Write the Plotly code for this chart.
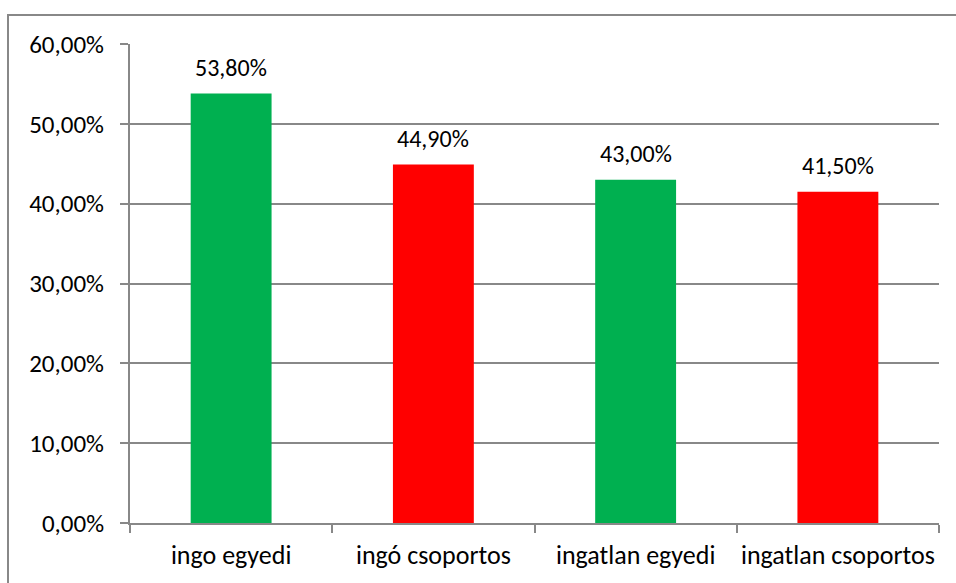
import plotly.graph_objects as go

categories = ["ingo egyedi", "ingó csoportos", "ingatlan egyedi", "ingatlan csoportos"]
values = [0.538, 0.449, 0.430, 0.415]
bar_colors = ["#00B050", "#FF0000", "#00B050", "#FF0000"]

W, H = 956, 583
L, R, T, B = 130, 17, 44, 60
pw, ph = W - L - R, H - T - B

fig = go.Figure(go.Bar(
    x=categories,
    y=values,
    marker=dict(color=bar_colors, line=dict(width=0)),
    width=0.4,
    cliponaxis=False,
))

# value labels above each bar
for c, v in zip(categories, values):
    fig.add_annotation(
        x=c, y=v, text=f"{v * 100:.2f}%".replace(".", ","),
        showarrow=False, yanchor="bottom", yshift=10,
        font=dict(size=24, color="#000000"),
    )

grid = "#888888"
font = "Carlito, Lato, sans-serif"

fig.update_layout(
    width=W, height=H,
    margin=dict(l=L, r=R, t=T, b=B, autoexpand=False),
    paper_bgcolor="white", plot_bgcolor="white",
    separators=",.",
    showlegend=False,
    font=dict(family=font, size=24, color="#000000"),
    xaxis=dict(
        type="category",
        tickson="boundaries",
        tickangle=0,
        automargin=False,
        ticks="outside", ticklen=8, tickcolor=grid, tickwidth=2,
        showline=True, linecolor=grid, linewidth=2,
        showgrid=False,
        ticklabelstandoff=8,
        tickfont=dict(size=26),
    ),
    yaxis=dict(
        range=[0, 0.6], dtick=0.1, tickformat=".2%",
        automargin=False,
        ticks="outside", ticklen=8, tickcolor=grid, tickwidth=2,
        showline=True, linecolor=grid, linewidth=2,
        showgrid=True, gridcolor=grid, gridwidth=2,
        zeroline=False,
        ticklabelstandoff=11,
        tickfont=dict(size=25),
    ),
    shapes=[dict(
        type="rect", xref="paper", yref="paper",
        x0=(8 - L) / pw, x1=(W + 20 - L) / pw,
        y0=-(H + 20 - T - ph) / ph, y1=(H - 15 - B) / ph,
        line=dict(color=grid, width=2), fillcolor="rgba(0,0,0,0)",
        layer="below",
    )],
)

fig.write_html("out.html")
